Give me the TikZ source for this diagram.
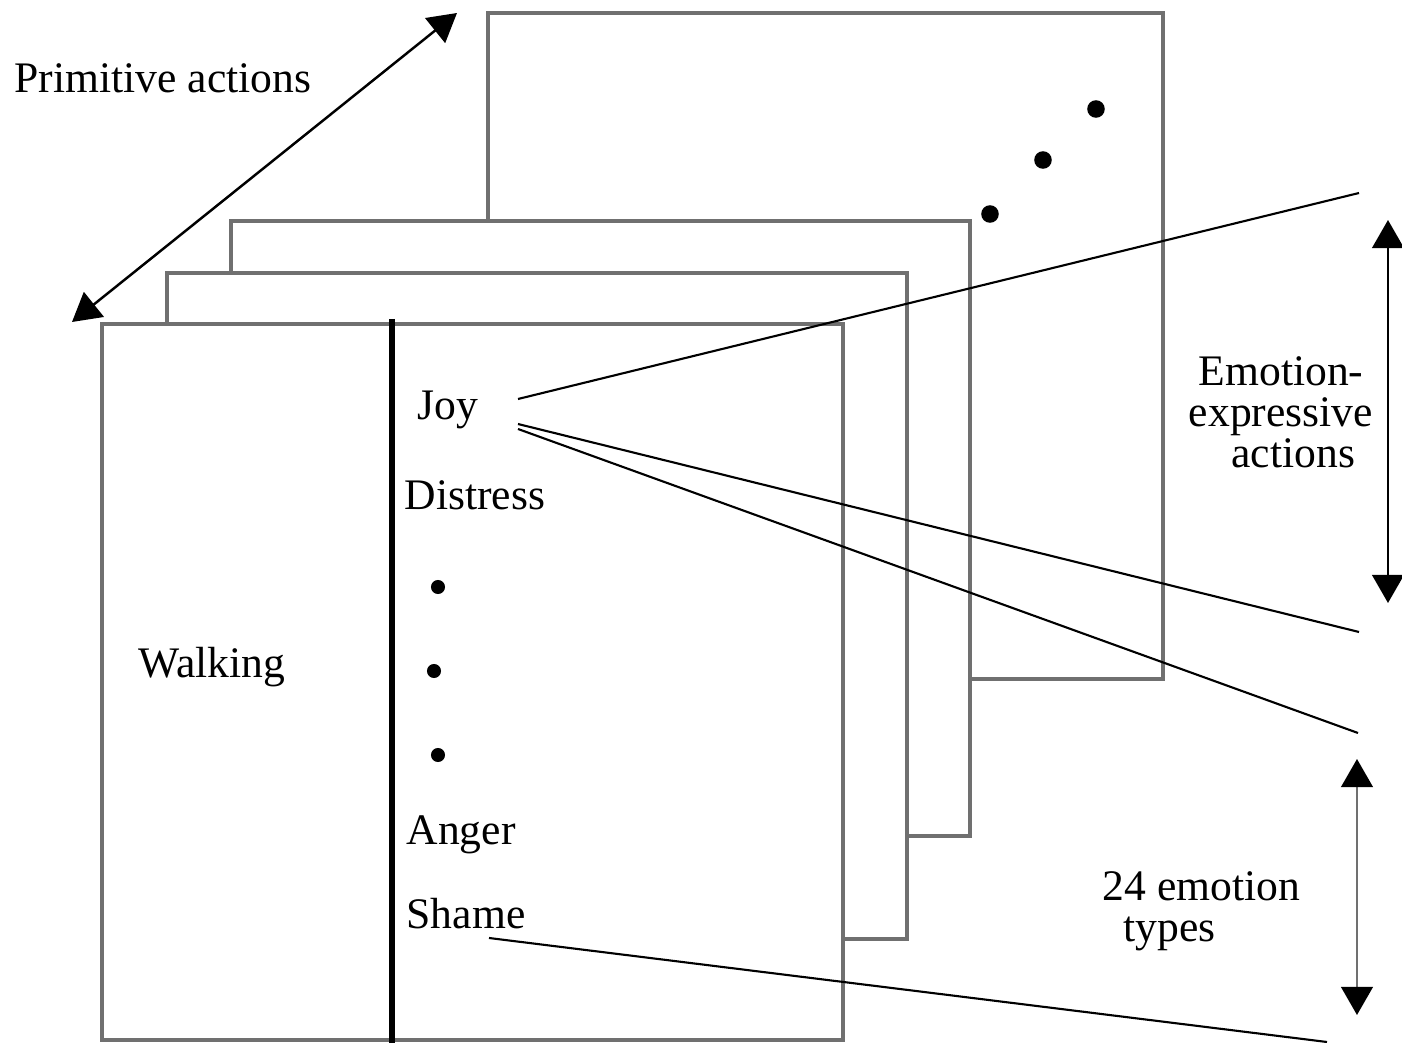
\documentclass[tikz,border=0pt]{standalone}
\usepackage{fontspec}
\setmainfont{Liberation Serif}
\usetikzlibrary{arrows.meta}
\definecolor{sheetgray}{HTML}{707070}

\begin{document}
\begin{tikzpicture}[x=0.01cm,y=-0.01cm,
  sheet/.style={draw=sheetgray,line width=0.9pt,fill=white},
  lbl/.style={inner sep=0pt,font=\fontsize{12.4}{11.6}\selectfont},
  span/.style={{Triangle[length=8pt,width=9pt,color=black]}-{Triangle[length=8pt,width=9pt,color=black]},line width=0.7pt},
  ray/.style={line width=0.6pt},
  dot/.style={circle,fill=black,inner sep=0pt,minimum size=#1}]
  \useasboundingbox (0,0) rectangle (1402,1043);
  % stacked sheets, back to front
  \draw[sheet] (488,13) rectangle (1163,679);
  \draw[sheet] (231,221) rectangle (970,836);
  \draw[sheet] (167,273) rectangle (907,939);
  \draw[sheet] (102,324) rectangle (843,1040);
  \draw[line width=1.5pt] (392,319) -- (392,1043);
  \node[dot=5pt] (b1) at (1096,109) {};
  \node[dot=5pt] (b2) at (1043,160) {};
  \node[dot=5pt] (b3) at (990,214) {};
  \node[dot=4pt] (f1) at (438,587) {};
  \node[dot=4pt] (f2) at (434,671) {};
  \node[dot=4pt] (f3) at (438,755) {};
  % labels
  \node[lbl,anchor=base west] (prim) at (14,93) {Primitive actions};
  \node[lbl,anchor=base west] (joy) at (417,420) {Joy};
  \node[lbl,anchor=base west] (distress) at (404,510) {Distress};
  \node[lbl,anchor=base west] (walking) at (138,678) {Walking};
  \node[lbl,anchor=base west] (anger) at (406,845) {Anger};
  \node[lbl,anchor=base west] (shame) at (406,929) {Shame};
  \node[lbl,anchor=north,align=center] (expr) at (1281,356) {Emotion-\\expressive\\\hspace{7pt}actions};
  \node[lbl,anchor=north west,align=left] (types) at (1102,871) {24 emotion\\\hspace{6pt}types};
  % rays
  \coordinate (j1) at (518,399);
  \coordinate (j2) at (518,424);
  \coordinate (j3) at (518,429);
  \coordinate (s1) at (489,938);
  \coordinate (r1) at (1359,193);
  \coordinate (r2) at (1359,632);
  \coordinate (r3) at (1358,733);
  \coordinate (r4) at (1327,1042);
  \draw[ray] (j1) -- (r1);
  \draw[ray] (j2) -- (r2);
  \draw[ray] (j3) -- (r3);
  \draw[ray] (s1) -- (r4);
  % extents
  \coordinate (pa) at (72,322);
  \coordinate (pb) at (457,13);
  \coordinate (ea) at (1388,220);
  \coordinate (eb) at (1388,603);
  \coordinate (ta) at (1357,759);
  \coordinate (tb) at (1357,1015);
  \draw[span] (pa) -- (pb);
  \draw[span] (ea) -- (eb);
  \draw[span,draw=sheetgray] (ta) -- (tb);
\end{tikzpicture}
\end{document}
